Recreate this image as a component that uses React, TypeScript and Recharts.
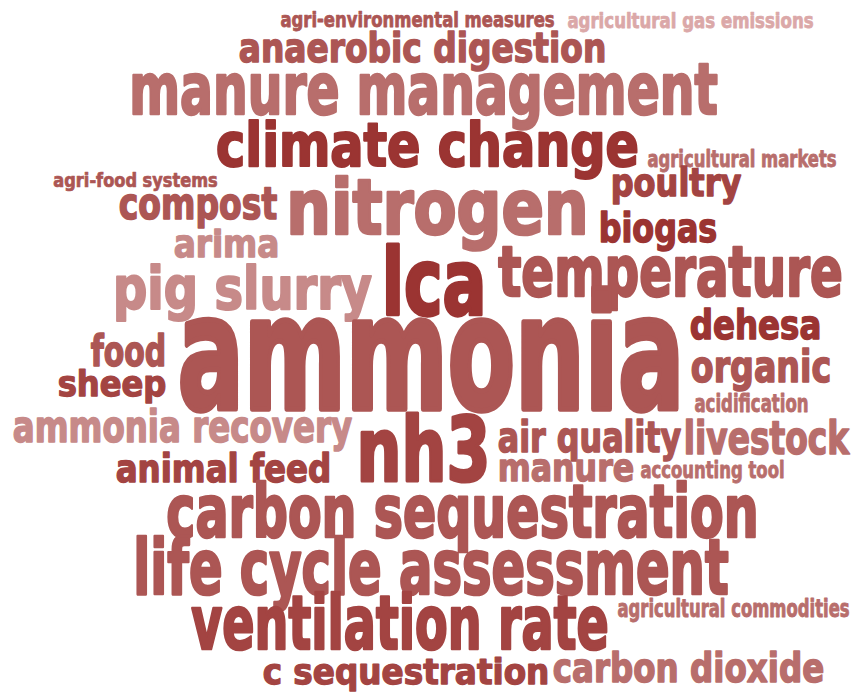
import React from "react";
import { ScatterChart, Scatter, XAxis, YAxis } from "recharts";

// Keywords and their relative weights (weight ~ rendered letter height)
const words = [
  "agri-environmental measures",
  "agricultural gas emissions",
  "anaerobic digestion",
  "manure management",
  "climate change",
  "agricultural markets",
  "agri-food systems",
  "compost",
  "nitrogen",
  "poultry",
  "biogas",
  "arima",
  "pig slurry",
  "lca",
  "temperature",
  "dehesa",
  "food",
  "sheep",
  "ammonia",
  "organic",
  "acidification",
  "ammonia recovery",
  "nh3",
  "air quality",
  "livestock",
  "animal feed",
  "manure",
  "accounting tool",
  "carbon sequestration",
  "life cycle assessment",
  "ventilation rate",
  "agricultural commodities",
  "c sequestration",
  "carbon dioxide",
];

const weights = [
  12, 12, 23, 40, 34, 13, 11, 25, 43, 22, 23, 21, 33, 52, 39, 23, 24, 20, 89,
  25, 14, 25, 50, 24, 26, 22, 22, 13, 41, 43, 42, 14, 20, 23,
];

// colour tone index per word (0 darkest ... 5 lightest)
const tones = [
  2, 5, 2, 3, 0, 3, 2, 2, 3, 1, 0, 4, 4, 0, 2, 0, 2, 1, 2,
  2, 3, 4, 1, 2, 3, 1, 3, 3, 2, 2, 1, 3, 1, 3,
];

// word-cloud layout: left edge, right edge, baseline
const layoutLeft = [
  280, 567, 238, 128, 215, 647, 53, 118, 285, 610, 598, 173, 112, 380, 497,
  689, 90, 57, 175, 690, 694, 12, 355, 497, 683, 115, 497, 640, 165, 132, 190,
  617, 262, 552,
];
const layoutRight = [
  555, 814, 607, 719, 640, 837, 218, 278, 590, 742, 718, 280, 373, 488, 844,
  822, 167, 167, 687, 832, 809, 353, 492, 682, 850, 332, 635, 785, 760, 730,
  610, 850, 550, 825,
];
const layoutBaseline = [
  27, 28, 63, 115, 167, 167, 187, 220, 235, 197, 243, 258, 310, 317, 297, 340,
  367, 397, 412, 383, 412, 443, 483, 453, 455, 483, 482, 478, 538, 595, 650,
  617, 685, 683,
];

const palette = ["#9b3432", "#a34442", "#ac5654", "#b86e6c", "#c78a89", "#dba8a8"];
const FONT =
  "'DejaVu Sans Condensed', 'Liberation Sans Narrow', 'Roboto', 'Liberation Sans', sans-serif";

const rows = words.map((w, i) => ({
  word: w,
  weight: weights[i],
  tone: tones[i],
  x: (layoutLeft[i] + layoutRight[i]) / 2,
  y: layoutBaseline[i],
  span: layoutRight[i] - layoutLeft[i],
}));

const WordShape = (props: any) => {
  const { cx, cy, payload } = props;
  if (cx == null || cy == null) return null;
  const fontSize = payload.weight / 0.56;
  const color = palette[payload.tone];
  const sw = fontSize * 0.035;
  return (
    <text
      x={cx}
      y={cy - sw / 2}
      textAnchor="middle"
      fontFamily={FONT}
      fontWeight={700}
      fontSize={fontSize}
      textLength={payload.span - sw}
      lengthAdjust="spacingAndGlyphs"
      fill={color}
      stroke={color}
      strokeWidth={sw}
      strokeLinejoin="round"
    >
      {payload.word}
    </text>
  );
};

export default function App() {
  return (
    <div style={{ position: "absolute", left: 0, top: 0, background: "#fff" }}>
      <ScatterChart
        width={854}
        height={692}
        margin={{ top: 0, right: 0, bottom: 0, left: 0 }}
      >
        <XAxis type="number" dataKey="x" domain={[0, 854]} hide />
        <YAxis type="number" dataKey="y" domain={[0, 692]} reversed hide />
        <Scatter data={rows} shape={WordShape} isAnimationActive={false} />
      </ScatterChart>
    </div>
  );
}
